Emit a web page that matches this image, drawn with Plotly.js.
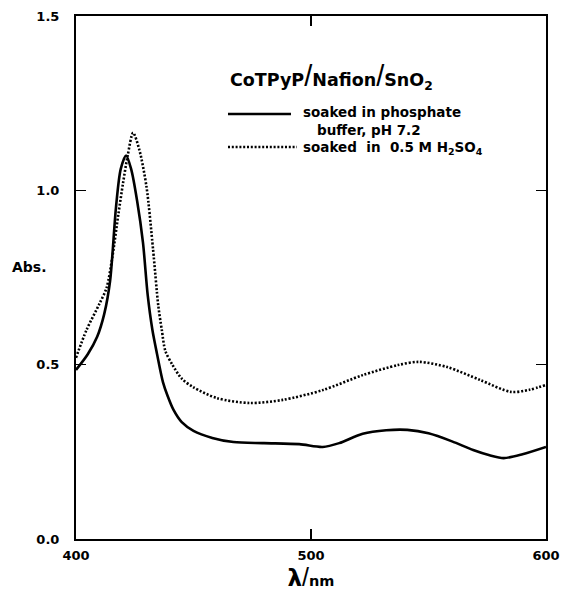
<!DOCTYPE html>
<html>
<head>
<meta charset="utf-8">
<script src="https://cdn.plot.ly/plotly-3.0.1.min.js"></script>
<style>html,body{margin:0;padding:0;background:#fff;}#chart{width:565px;height:595px;}</style>
</head>
<body>
<div id="chart"></div>
<script>
// Series: soaked in phosphate buffer, pH 7.2 (solid)
const wlPhosphate = [400, 405, 409, 412, 414.5, 417, 419, 421.3, 423.5, 426, 428.5, 430.5, 432.5, 434.5, 437, 439, 441.5, 445, 450, 458, 467, 480, 495, 505, 512, 522, 532, 541, 550, 560, 569, 576, 582, 590, 600];
const absPhosphate = [0.485, 0.53, 0.58, 0.645, 0.74, 0.95, 1.06, 1.10, 1.06, 0.97, 0.85, 0.70, 0.60, 0.53, 0.45, 0.41, 0.37, 0.335, 0.31, 0.29, 0.278, 0.275, 0.272, 0.264, 0.275, 0.302, 0.312, 0.313, 0.303, 0.28, 0.255, 0.24, 0.232, 0.243, 0.264];
// Series: soaked in 0.5 M H2SO4 (dotted)
const wlAcid = [400, 404.5, 410, 413, 415.5, 418, 420, 422, 424.3, 427, 430, 432.8, 435, 436.5, 438, 441, 445, 450, 460, 474, 488, 505, 522, 537, 546, 558, 572, 585, 593, 600];
const absAcid = [0.52, 0.60, 0.675, 0.72, 0.81, 0.93, 1.02, 1.10, 1.165, 1.115, 1.01, 0.83, 0.67, 0.60, 0.54, 0.50, 0.46, 0.435, 0.404, 0.39, 0.399, 0.427, 0.47, 0.499, 0.508, 0.493, 0.456, 0.422, 0.428, 0.442];
const xTicks = [400, 500, 600];
const yTicks = [0.0, 0.5, 1.0, 1.5];
const SL = "<span style='font-size:29px;font-weight:normal;font-family:Liberation Sans'>/</span>";
const legendTitle = "CoTPyP" + SL + "Nafion" + SL + "SnO<sub>2</sub>";
const label1a = "soaked in phosphate";
const label1b = "&nbsp;&nbsp;&nbsp;buffer, pH 7.2";
const label2 = "soaked&nbsp; in&nbsp; 0.5 M H<sub>2</sub>SO<sub>4</sub>";
const yLabel = "Abs.";
const xLabel = "<span style='font-size:23px'>λ</span><span style='font-size:25px;font-weight:normal;font-family:Liberation Sans'>/</span>nm";

const FONT = "DejaVu Sans, Verdana, sans-serif";

const traces = [
  {x: wlPhosphate, y: absPhosphate, mode: 'lines', line: {color: '#000', width: 2.6, shape: 'spline', smoothing: 0.8}, showlegend: false},
  {x: wlAcid, y: absAcid, mode: 'lines', line: {color: '#000', width: 2.6, dash: '2px,1.8px', shape: 'spline', smoothing: 0.8}, showlegend: false}
];

const legFont = {family: FONT, size: 13.5, weight: 'bold'};

const layout = {
  width: 565, height: 595,
  margin: {l: 76, r: 19, t: 16, b: 56},
  paper_bgcolor: '#fff', plot_bgcolor: '#fff',
  font: {family: FONT, color: '#000', size: 13, weight: 'bold'},
  xaxis: {
    range: [400, 600], tickvals: xTicks, ticktext: xTicks.map(String),
    ticks: 'inside', ticklen: 10, tickwidth: 1.5, tickcolor: '#000',
    showline: true, linecolor: '#000', linewidth: 2, mirror: 'ticks',
    showgrid: false, zeroline: false, ticklabelstandoff: 3,
    tickfont: {family: FONT, size: 13, weight: 'bold'},
    title: {text: xLabel, font: {family: FONT, size: 14.5, weight: 'bold'}, standoff: 13}
  },
  yaxis: {
    range: [0, 1.5], tickvals: yTicks, tickformat: '.1f',
    ticks: 'inside', ticklen: 10, tickwidth: 1.5, tickcolor: '#000',
    showline: true, linecolor: '#000', linewidth: 2, mirror: 'ticks',
    showgrid: false, zeroline: false, ticklabelstandoff: 12,
    tickfont: {family: FONT, size: 13, weight: 'bold'}
  },
  annotations: [
    {xref: 'paper', yref: 'paper', x: -0.098, y: 0.520, xanchor: 'center', yanchor: 'middle', text: yLabel, showarrow: false, font: {family: FONT, size: 14, weight: 'bold'}},
    {xref: 'paper', yref: 'paper', x: 0.3234, y: 0.8834, xanchor: 'left', yanchor: 'middle', text: legendTitle, showarrow: false, font: {family: FONT, size: 17.5, weight: 'bold'}},
    {xref: 'paper', yref: 'paper', x: 0.479, y: 0.782, xanchor: 'left', yanchor: 'middle', align: 'left',
     text: [label1a, label1b, label2].join('<br>'), showarrow: false, font: legFont}
  ],
  shapes: [
    {type: 'line', xref: 'paper', yref: 'paper', x0: 0.3234, x1: 0.4574, y0: 0.8126, y1: 0.8126, line: {color: '#000', width: 2.6}},
    {type: 'line', xref: 'paper', yref: 'paper', x0: 0.3234, x1: 0.4700, y0: 0.7495, y1: 0.7495, line: {color: '#000', width: 2.6, dash: '2px,1.8px'}}
  ]
};

Plotly.newPlot('chart', traces, layout, {displayModeBar: false, staticPlot: true});
</script>
</body>
</html>
